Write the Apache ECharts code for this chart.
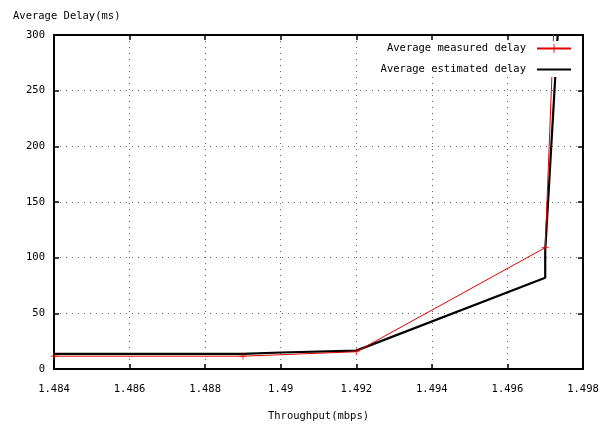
<!DOCTYPE html>
<html>
<head>
<meta charset="utf-8">
<script src="https://cdn.jsdelivr.net/npm/echarts@6/dist/echarts.min.js"></script>
<style>html,body{margin:0;padding:0;background:#fff}#c{width:600px;height:425px}</style>
</head>
<body>
<div id="c"></div>
<script>
// Data
const seriesNames = ['Average measured delay', 'Average estimated delay'];
const measuredDelay = [[1.484, 11.5], [1.489, 11.5], [1.492, 15.5], [1.497, 109], [1.4973, 370]];
const estimatedDelay = [[1.484, 13.5], [1.489, 13.5], [1.489, 14.8], [1.49, 14.8], [1.49, 16], [1.492, 16.5], [1.497, 82], [1.497, 106], [1.4975, 400]];
const xTicks = [1.484, 1.486, 1.488, 1.49, 1.492, 1.494, 1.496, 1.498];
const yTicks = [0, 50, 100, 150, 200, 250, 300];

const FONT = 'DejaVu Sans Mono';
const plus = 'path://M4.5,0h1v10h-1zM0,4.5h10v1h-10z';
const chart = echarts.init(document.getElementById('c'), null, {renderer: 'canvas'});
const gridLine = {show: true, lineStyle: {color: '#666', type: [1, 5], width: 1}};
const axisLine = {show: true, onZero: false, lineStyle: {color: '#000', width: 2}};
const ticks = {show: true, inside: true, length: 5, lineStyle: {color: '#000', width: 1.5}};
chart.setOption({
  animation: false,
  backgroundColor: '#fff',
  textStyle: {fontFamily: FONT},
  grid: {left: 54, right: 17, top: 35, bottom: 56, containLabel: false, outerBoundsMode: 'none'},
  graphic: [{type: 'text', left: 13, top: 11, style: {text: 'Average Delay(ms)', font: '10.5px "DejaVu Sans Mono"', fill: '#000'}}],
  legend: {
    data: [
      {name: seriesNames[0]},
      {name: seriesNames[1], icon: 'path://M0,0h34v2.2h-34z'}
    ],
    orient: 'vertical',
    right: 22, top: 41,
    align: 'right',
    itemWidth: 34, itemHeight: 11, itemGap: 10,
    backgroundColor: '#fff',
    padding: [2, 6, 2, 6],
    textStyle: {fontFamily: FONT, fontSize: 10.5, color: '#000', padding: [0, 6, 0, 0]}
  },
  xAxis: [{
    type: 'value', min: xTicks[0], max: xTicks[xTicks.length - 1], interval: 0.002,
    name: 'Throughput(mbps)', nameLocation: 'middle', nameGap: 42,
    nameTextStyle: {fontFamily: FONT, fontSize: 10.5, color: '#000'},
    axisLine: axisLine, axisTick: ticks, splitLine: gridLine,
    axisLabel: {fontFamily: FONT, fontSize: 10.5, color: '#000', margin: 15, formatter: v => String(+v.toFixed(3))}
  }, {
    type: 'value', position: 'top', min: xTicks[0], max: xTicks[xTicks.length - 1], interval: 0.002,
    axisLine: axisLine, axisTick: ticks, axisLabel: {show: false}, splitLine: {show: false}
  }],
  yAxis: [{
    type: 'value', min: yTicks[0], max: yTicks[yTicks.length - 1], interval: 50,
    axisLine: axisLine, axisTick: ticks, splitLine: gridLine,
    axisLabel: {fontFamily: FONT, fontSize: 10.5, color: '#000', margin: 9}
  }, {
    type: 'value', position: 'right', min: yTicks[0], max: yTicks[yTicks.length - 1], interval: 50,
    axisLine: axisLine, axisTick: ticks, axisLabel: {show: false}, splitLine: {show: false}
  }],
  series: [{
    name: seriesNames[0], type: 'line', data: measuredDelay, clip: true,
    symbol: plus, symbolSize: 7, showSymbol: true,
    lineStyle: {color: '#e00000', width: 1}, itemStyle: {color: '#e00000'}, z: 3
  }, {
    name: seriesNames[1], type: 'line', data: estimatedDelay, clip: true,
    symbol: 'none',
    lineStyle: {color: '#000', width: 2.2}, itemStyle: {color: '#000'}, z: 2
  }]
});
</script>
</body>
</html>
